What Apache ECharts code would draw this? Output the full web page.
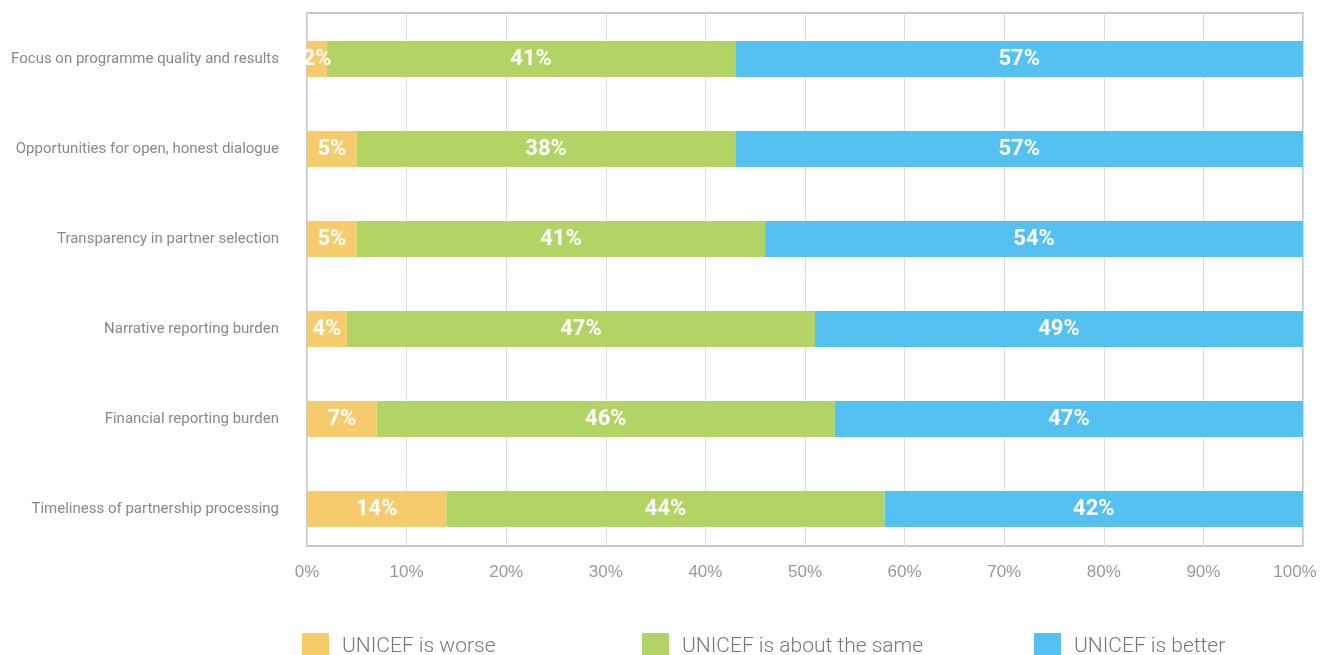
<!DOCTYPE html>
<html><head><meta charset="utf-8">
<script src="https://cdn.jsdelivr.net/npm/echarts@6/dist/echarts.min.js"></script>
<style>html,body{margin:0;padding:0;background:#fff}#c{width:1320px;height:655px}</style>
</head><body><div id="c"></div>
<script>
const categories = [
  'Focus on programme quality and results',
  'Opportunities for open, honest dialogue',
  'Transparency in partner selection',
  'Narrative reporting burden',
  'Financial reporting burden',
  'Timeliness of partnership processing'
];
const worse = [2, 5, 5, 4, 7, 14];
const same = [41, 38, 41, 47, 46, 44];
const better = [57, 57, 54, 49, 47, 42];
const seriesNames = ['UNICEF is worse', 'UNICEF is about the same', 'UNICEF is better'];
const xTicks = [0, 10, 20, 30, 40, 50, 60, 70, 80, 90, 100];
const colors = ['#F6CB6B', '#B3D465', '#55C1F1'];

const chart = echarts.init(document.getElementById('c'));
const barLabel = {
  show: true, position: 'inside', color: '#fff', fontWeight: 'bold',
  fontFamily: 'Roboto', fontSize: 22,
  formatter: p => p.value + '%'
};
const mk = (name, data, i) => ({
  name, type: 'bar', stack: 'a', data, xAxisIndex: 1, yAxisIndex: 1,
  barWidth: 36, itemStyle: { color: colors[i] }, label: barLabel,
  emphasis: { disabled: true }
});
const legendBase = (name, left) => ({
  data: [name], left, top: 628, itemWidth: 27, itemHeight: 27, itemGap: 0,
  icon: 'rect', selectedMode: false,
  textStyle: { color: '#777', fontSize: 21, fontFamily: 'Roboto', fontWeight: 300, padding: [0, 0, 0, 8] }
});
chart.setOption({
  animation: false,
  grid: [
    { left: 307, right: 17, top: 13, bottom: 109, show: true, borderColor: '#c8c8c8', borderWidth: 2,
      containLabel: false, outerBoundsMode: 'none' },
    { left: 307, right: 17, top: 14, height: 540, containLabel: false, outerBoundsMode: 'none' }
  ],
  xAxis: [
    { gridIndex: 0, type: 'value', min: 0, max: 100, interval: 10,
      axisLine: { show: false }, axisTick: { show: false },
      splitLine: { lineStyle: { color: '#dcdcdc', width: 1 } },
      axisLabel: { color: '#999', fontSize: 17, fontFamily: 'Liberation Sans', margin: 18,
        formatter: v => !xTicks.includes(v) ? '' : (v === 100 ? '{r|' + v + '%}' : v + '%'),
        rich: { r: { color: '#999', fontSize: 17, fontFamily: 'Liberation Sans', padding: [0, 16, 0, 0] } } } },
    { gridIndex: 1, type: 'value', min: 0, max: 100, show: false }
  ],
  yAxis: [
    { gridIndex: 0, type: 'category', data: categories, show: false },
    { gridIndex: 1, type: 'category', data: categories, inverse: true,
      axisLine: { show: false }, axisTick: { show: false },
      axisLabel: { color: '#888', fontSize: 15, fontFamily: 'Roboto', margin: 28 } }
  ],
  legend: [
    legendBase(seriesNames[0], 297),
    legendBase(seriesNames[1], 637),
    legendBase(seriesNames[2], 1029)
  ],
  series: [mk(seriesNames[0], worse, 0), mk(seriesNames[1], same, 1), mk(seriesNames[2], better, 2)]
});
</script></body></html>
